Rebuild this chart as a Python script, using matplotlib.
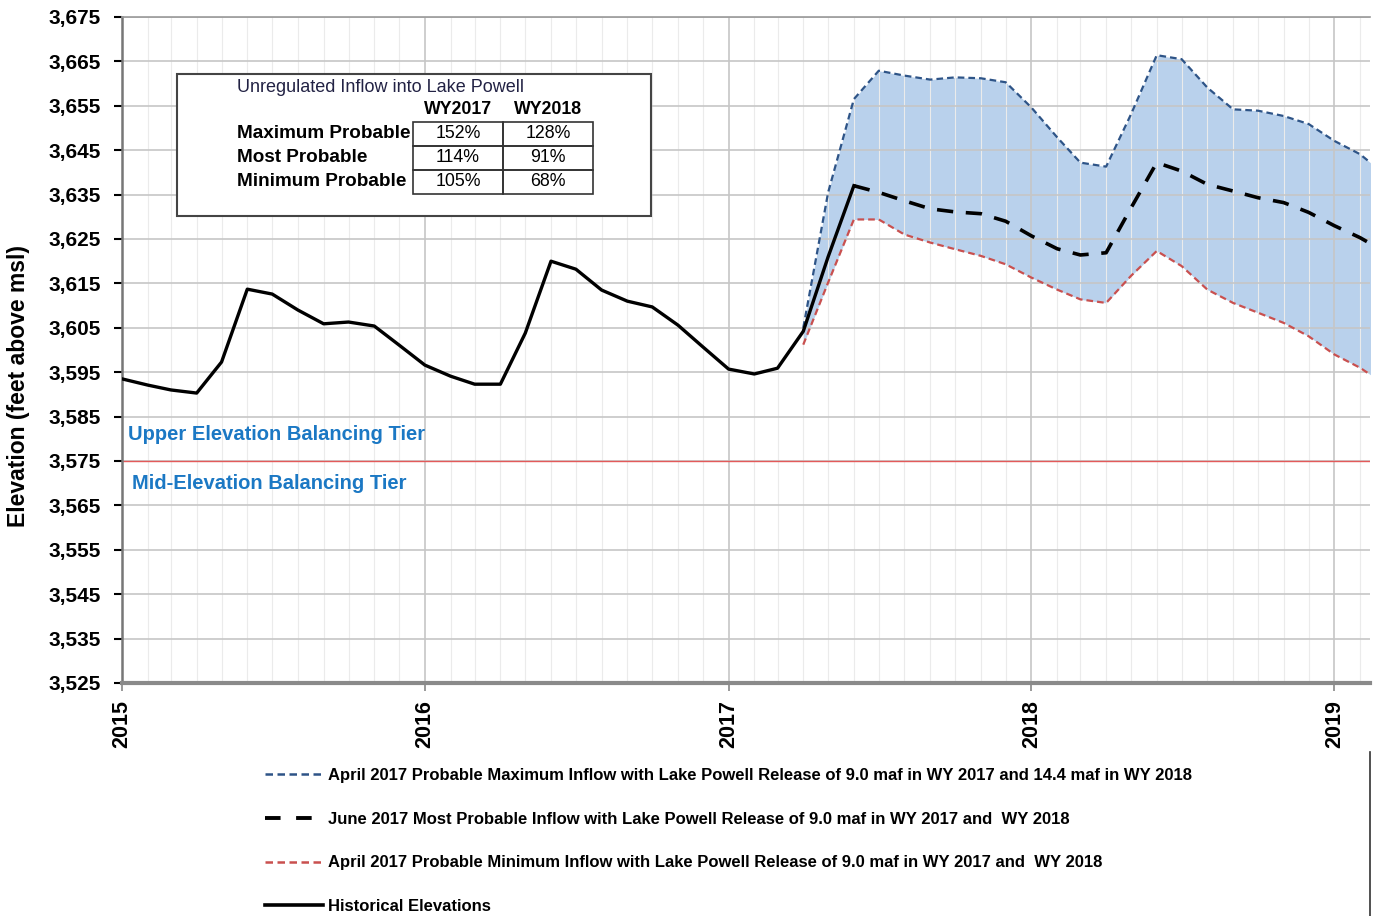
import pandas as pd
import matplotlib.pyplot as plt
import matplotlib.dates as mdates
from matplotlib.lines import Line2D
from matplotlib.patches import Rectangle
from matplotlib.ticker import FuncFormatter, FixedLocator

# Historical end-of-month elevations, Jan 2015 - Jun 2017
hist_dates = pd.date_range('2015-01-01', periods=30, freq='MS')
hist_elev = [3593.5, 3592.1, 3591.0, 3590.3, 3597.3, 3613.7, 3612.6, 3609.0, 3605.9, 3606.3,
             3605.4, 3601.1, 3596.6, 3594.1, 3592.3, 3592.3, 3603.8, 3620.0, 3618.2, 3613.5,
             3611.0, 3609.7, 3605.6, 3600.7, 3595.7, 3594.6, 3595.9, 3604.2, 3621.0, 3637.0]

# April 2017 max / min probable projections, Apr 2017 - Mar 2019
proj_dates = pd.date_range('2017-04-01', periods=24, freq='MS')
max_elev = [3605.0, 3635.5, 3656.5, 3662.9, 3661.8, 3660.9, 3661.4, 3661.2, 3660.3, 3654.6,
            3647.9, 3642.2, 3641.3, 3653.1, 3666.4, 3665.5, 3659.1, 3654.2, 3653.9, 3652.7,
            3650.9, 3647.1, 3644.1, 3639.8]
min_elev = [3601.2, 3615.2, 3629.4, 3629.4, 3626.0, 3624.2, 3622.7, 3621.2, 3619.3, 3616.3,
            3613.6, 3611.4, 3610.6, 3616.7, 3622.3, 3618.9, 3613.6, 3610.6, 3608.4, 3606.1,
            3603.1, 3599.0, 3596.0, 3592.5]

# June 2017 most probable, Jun 2017 - Mar 2019
most_dates = pd.date_range('2017-06-01', periods=22, freq='MS')
most_elev = [3637.0, 3635.5, 3633.6, 3631.8, 3631.1, 3630.7, 3629.0, 3625.7, 3622.8, 3621.4,
             3621.9, 3632.0, 3642.2, 3640.3, 3637.3, 3635.8, 3634.3, 3633.2, 3631.0, 3628.0,
             3625.3, 3622.3]

tier_line = 3575
y_ticks = list(range(3525, 3676, 10))

table_title = 'Unregulated Inflow into Lake Powell'
table_cols = ['WY2017', 'WY2018']
table_rows = ['Maximum Probable', 'Most Probable', 'Minimum Probable']
table_vals = [['152%', '128%'], ['114%', '91%'], ['105%', '68%']]

legend_labels = [
    'April 2017 Probable Maximum Inflow with Lake Powell Release of 9.0 maf in WY 2017 and 14.4 maf in WY 2018',
    'June 2017 Most Probable Inflow with Lake Powell Release of 9.0 maf in WY 2017 and  WY 2018',
    'April 2017 Probable Minimum Inflow with Lake Powell Release of 9.0 maf in WY 2017 and  WY 2018',
    'Historical Elevations',
]

plt.rcParams['font.family'] = ['Liberation Sans', 'DejaVu Sans']

W, H = 1374, 916
fx = lambda x: x / W
fy = lambda y: 1 - y / H

fig = plt.figure(figsize=(W / 100, H / 100), dpi=100)
ax = fig.add_axes([fx(122), fy(683), fx(1370) - fx(122), fy(17) - fy(683)])

blue = '#2e5487'
red = '#c9504f'
fill = '#b9d1ec'

ax.fill_between(proj_dates, min_elev, max_elev, color=fill, zorder=0.4, linewidth=0)
ax.plot(proj_dates, max_elev, color=blue, lw=1.6, dashes=(3, 1.8), zorder=3)
ax.plot(proj_dates, min_elev, color=red, lw=1.6, dashes=(3, 1.8), zorder=3)
ax.plot(most_dates, most_elev, color='black', lw=2.6, dashes=(4.5, 3.5), zorder=4)
ax.plot(hist_dates, hist_elev, color='black', lw=2.4, zorder=5)
ax.axhline(tier_line, color='#e35a5a', lw=1.0, zorder=2)

ax.text(pd.Timestamp('2015-01-08'), 3581, 'Upper Elevation Balancing Tier', color='#1b78c4',
        fontsize=14.5, fontweight='bold', va='center')
ax.text(pd.Timestamp('2015-01-13'), 3570, 'Mid-Elevation Balancing Tier', color='#1b78c4',
        fontsize=14.5, fontweight='bold', va='center')

ax.set_xlim(pd.Timestamp('2015-01-01'), pd.Timestamp('2019-02-13'))
ax.set_ylim(3525, 3675)
ax.yaxis.set_major_locator(FixedLocator(y_ticks))
ax.yaxis.set_major_formatter(FuncFormatter(lambda v, p: f'{v:,.0f}'))
ax.xaxis.set_major_locator(mdates.YearLocator())
ax.xaxis.set_minor_locator(mdates.MonthLocator())
ax.xaxis.set_major_formatter(mdates.DateFormatter('%Y'))

ax.set_axisbelow(True)
ax.grid(True, which='major', axis='y', color='#c6c6c6', lw=1.2)
ax.grid(True, which='major', axis='x', color='#c6c6c6', lw=1.2)
ax.grid(True, which='minor', axis='x', color='#ebebeb', lw=0.8)

for lbl in ax.get_yticklabels():
    lbl.set_fontweight('bold')
for lbl in ax.get_xticklabels():
    lbl.set_fontweight('bold')
    lbl.set_rotation(90)
ax.tick_params(axis='y', labelsize=15, length=6, width=1.5, color='black', pad=9)
ax.tick_params(axis='x', which='major', labelsize=15.5, length=6, width=1.2, color='#888888', pad=6)
ax.tick_params(axis='x', which='minor', length=0)

ax.spines['right'].set_visible(False)
ax.spines['top'].set_color('#999999')
ax.spines['top'].set_linewidth(1.2)
ax.spines['left'].set_color('#777777')
ax.spines['left'].set_linewidth(1.8)
ax.spines['bottom'].set_color('#8a8a8a')
ax.spines['bottom'].set_linewidth(3)

fig.text(fx(19), fy(386), 'Elevation (feet above msl)', rotation=90, fontsize=16.5,
         fontweight='bold', ha='center', va='center')

# inset table of inflow percentages
fig.add_artist(Rectangle((fx(177), fy(216)), fx(651) - fx(177), fy(74) - fy(216),
                         transform=fig.transFigure, facecolor='white', edgecolor='#444444', lw=1.5))
fig.text(fx(237), fy(87), table_title, fontsize=13, color='#222244', va='center')
col_x = [458, 548]
for cx, c in zip(col_x, table_cols):
    fig.text(fx(cx), fy(110), c, fontsize=12.8, fontweight='bold', ha='center', va='center')
for i, (r, vals) in enumerate(zip(table_rows, table_vals)):
    yc = 134 + 24 * i
    fig.text(fx(237), fy(yc), r, fontsize=13.6, fontweight='bold', va='center')
    for j, v in enumerate(vals):
        fig.add_artist(Rectangle((fx(413 + 90 * j), fy(yc + 12)), fx(90), fy(0) - fy(24),
                                 transform=fig.transFigure, facecolor='none',
                                 edgecolor='#333333', lw=1.2))
        fig.text(fx(col_x[j]), fy(yc), v, fontsize=12.8, ha='center', va='center')

handles = [
    Line2D([], [], color=blue, lw=1.8, dashes=(3, 1.8)),
    Line2D([], [], color='black', lw=2.8, dashes=(4, 4)),
    Line2D([], [], color=red, lw=1.8, dashes=(3, 1.8)),
    Line2D([], [], color='black', lw=2.6),
]
fig.legend(handles, legend_labels, loc='upper left', bbox_to_anchor=(fx(250), fy(753)),
           frameon=False, handlelength=3.5, handletextpad=0.3, labelspacing=1.72,
           prop={'weight': 'bold', 'size': 12})

fig.add_artist(Line2D([fx(1370), fx(1370)], [fy(752), fy(916)], color='#333333', lw=1.2,
                      transform=fig.transFigure))

fig.savefig('out.png', dpi=100)
